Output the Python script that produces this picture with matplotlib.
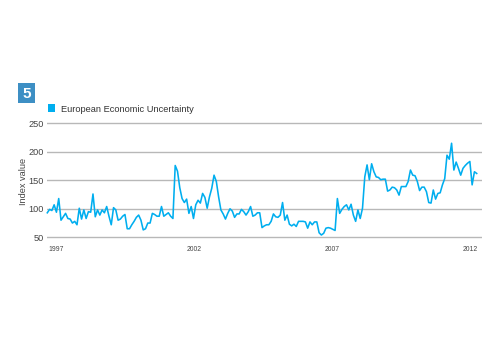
import matplotlib
matplotlib.use("Agg")
import matplotlib.pyplot as plt
from matplotlib.patches import Rectangle
import numpy as np

plt.rcParams['font.family'] = ['Liberation Sans', 'DejaVu Sans']

# Monthly European Economic Uncertainty index, Jan 1997 onward
values = [
    93, 99, 97, 107, 94, 118, 80, 86, 92, 83, 82, 75,
    78, 72, 101, 82, 98, 83, 95, 94, 126, 86, 98, 89,
    98, 93, 104, 87, 72, 102, 98, 80, 82, 87, 90, 65,
    65, 72, 78, 85, 89, 80, 63, 65, 75, 75, 92, 90,
    87, 87, 104, 87, 90, 93, 87, 83, 176, 166, 137, 118,
    111, 117, 92, 104, 83, 107, 115, 110, 127, 120, 101, 121,
    136, 159, 148, 121, 98, 91, 82, 92, 100, 96, 85, 91,
    91, 99, 95, 89, 95, 104, 87, 89, 93, 93, 67, 70,
    72, 72, 78, 91, 86, 85, 89, 111, 80, 89, 73, 70,
    73, 69, 78, 78, 78, 77, 66, 77, 72, 77, 77, 58,
    54, 57, 66, 67, 66, 64, 62, 118, 92, 99, 104, 107,
    98, 108, 89, 78, 98, 83, 101, 156, 177, 151, 179, 165,
    156, 155, 151, 152, 152, 131, 133, 138, 137, 133, 124, 139,
    139, 139, 148, 168, 159, 158, 148, 132, 138, 138, 130, 111,
    110, 133, 117, 127, 128, 142, 153, 194, 187, 215, 168, 182,
    171, 159, 171, 176, 180, 183, 142, 165, 162,
]
tick_labels = ["1997", "2002", "2007", "2012"]
tick_pos = [0.6, 60.8, 121.6, 181.9]
y_ticks = [50, 100, 150, 200, 250]
series_name = "European Economic Uncertainty"

W, H = 500, 350
fig = plt.figure(figsize=(5, 3.5), dpi=100)

ppu = (237.3 - 123.3) / 200.0
ymin, ymax = 46, 254
ax_left, ax_right = 47.3, 481.7
ax_top = 123.3 - (ymax - 250) * ppu
ax_bot = 237.3 + (50 - ymin) * ppu
ax = fig.add_axes([ax_left / W, 1 - ax_bot / H, (ax_right - ax_left) / W, (ax_bot - ax_top) / H])

line_color = "#00aeef"
x = np.arange(len(values))
ax.plot(x, values, color=line_color, lw=1.15, solid_joinstyle='round', zorder=3, clip_on=False)

n = len(values)
px_per = (476.7 - ax_left) / (n - 1)
ax.set_xlim(0, (ax_right - ax_left) / px_per)
ax.set_ylim(ymin, ymax)
ax.set_yticks(y_ticks)
ax.set_yticklabels([str(v) for v in y_ticks])
ax.yaxis.grid(True, color="#b8b8b8", lw=1.0)
ax.set_axisbelow(True)
for s in ax.spines.values():
    s.set_visible(False)
ax.tick_params(axis='y', length=0, pad=2.5, labelsize=6.6, labelcolor="#444444")
ax.set_xticks(tick_pos)
ax.set_xticklabels(tick_labels)
for lab in ax.get_xticklabels():
    lab.set_horizontalalignment('left')
ax.tick_params(axis='x', length=0, pad=4.5, labelsize=4.9, labelcolor="#444444")

fig.text(23.3 / W, 1 - 181 / H, "Index value", rotation=90, ha='center', va='center',
         fontsize=6.6, color="#444444")

# Chart number box
fig.patches.append(Rectangle((18.3 / W, 1 - 103.3 / H), 16.7 / W, 20 / H,
                             transform=fig.transFigure, facecolor="#3d8fc4", edgecolor='none'))
fig.text(26.6 / W, 1 - 93.5 / H, "5", ha='center', va='center', fontsize=11,
         fontweight='bold', color='white')

# Legend
fig.patches.append(Rectangle((47.7 / W, 1 - 111.7 / H), 7.5 / W, 8.2 / H,
                             transform=fig.transFigure, facecolor=line_color, edgecolor='none'))
fig.text(61 / W, 1 - 109.5 / H, series_name, ha='left', va='center', fontsize=6.7, color="#333333")

fig.savefig("out.png", dpi=100)
